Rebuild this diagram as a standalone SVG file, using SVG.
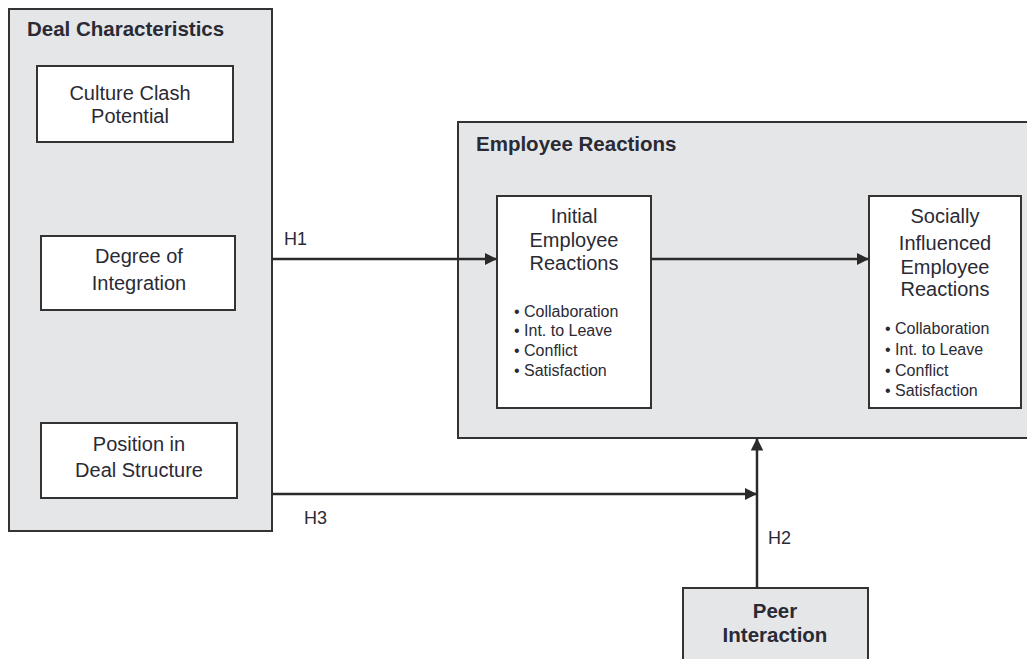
<svg xmlns="http://www.w3.org/2000/svg" width="1027" height="659" viewBox="0 0 1027 659">
  <style>
    .panel { fill: #e5e6e8; stroke: #333; stroke-width: 2; }
    .box { fill: #fff; stroke: #333; stroke-width: 2; }
    .title { font-family: "Liberation Sans", Arial, sans-serif; font-weight: bold; font-size: 20.5px; fill: #2a2a35; }
    .label { font-family: "Liberation Sans", Arial, sans-serif; font-size: 20px; fill: #2a2a35; text-anchor: middle; }
    .bullet { font-family: "Liberation Sans", Arial, sans-serif; font-size: 16px; fill: #2a2a35; }
    .hyp { font-family: "Liberation Sans", Arial, sans-serif; font-size: 18px; fill: #2a2a35; }
    .edge { stroke: #2a2a2a; stroke-width: 2.5; fill: none; marker-end: url(#arrow); }
  </style>
  <defs>
    <marker id="arrow" viewBox="0 0 10 10" refX="10" refY="5" markerWidth="5" markerHeight="5" orient="auto" markerUnits="strokeWidth">
      <path d="M0,0 L10,5 L0,10 z" fill="#2a2a2a"/>
    </marker>
  </defs>
  <rect width="1027" height="659" fill="#fff"/>

  <!-- Deal characteristics panel -->
  <g id="deal-characteristics">
    <rect class="panel" x="9" y="9" width="263" height="522"/>
    <text class="title" x="27" y="36">Deal Characteristics</text>
  </g>
  <g id="culture-clash">
    <rect class="box" x="37" y="66" width="196" height="76"/>
    <text class="label" x="130" y="100">Culture Clash</text>
    <text class="label" x="130" y="123">Potential</text>
  </g>
  <g id="degree-integration">
    <rect class="box" x="41" y="236" width="194" height="74"/>
    <text class="label" x="139" y="263">Degree of</text>
    <text class="label" x="139" y="290">Integration</text>
  </g>
  <g id="deal-position">
    <rect class="box" x="41" y="423" width="196" height="75"/>
    <text class="label" x="139" y="451">Position in</text>
    <text class="label" x="139" y="477">Deal Structure</text>
  </g>

  <!-- Employee reactions panel -->
  <g id="employee-reactions">
    <rect class="panel" x="458" y="122" width="580" height="316"/>
    <text class="title" x="476" y="151">Employee Reactions</text>
  </g>
  <g id="initial-reactions">
    <rect class="box" x="497" y="196" width="154" height="212"/>
    <text class="label" x="574" y="223">Initial</text>
    <text class="label" x="574" y="247">Employee</text>
    <text class="label" x="574" y="270">Reactions</text>
    <text class="bullet" x="514" y="317">• Collaboration</text>
    <text class="bullet" x="514" y="336">• Int. to Leave</text>
    <text class="bullet" x="514" y="356">• Conflict</text>
    <text class="bullet" x="514" y="376">• Satisfaction</text>
  </g>
  <g id="social-reactions">
    <rect class="box" x="869" y="196" width="152" height="212"/>
    <text class="label" x="945" y="223">Socially</text>
    <text class="label" x="945" y="250">Influenced</text>
    <text class="label" x="945" y="274">Employee</text>
    <text class="label" x="945" y="296">Reactions</text>
    <text class="bullet" x="885" y="334">• Collaboration</text>
    <text class="bullet" x="885" y="355">• Int. to Leave</text>
    <text class="bullet" x="885" y="376">• Conflict</text>
    <text class="bullet" x="885" y="396">• Satisfaction</text>
  </g>

  <!-- Peer interaction -->
  <g id="peer-interaction">
    <rect class="panel" x="683" y="588" width="185" height="80"/>
    <text class="title" x="775" y="618" text-anchor="middle">Peer</text>
    <text class="title" x="775" y="642" text-anchor="middle">Interaction</text>
  </g>

  <!-- Connectors -->
  <g id="connectors">
    <line class="edge" x1="272" y1="259" x2="497" y2="259"/>
    <line class="edge" x1="651" y1="259" x2="869" y2="259"/>
    <line class="edge" x1="272" y1="494" x2="757" y2="494"/>
    <line class="edge" x1="757" y1="588" x2="757" y2="438"/>
    <text class="hyp" x="284" y="245">H1</text>
    <text class="hyp" x="304" y="524">H3</text>
    <text class="hyp" x="768" y="544">H2</text>
  </g>
</svg>
